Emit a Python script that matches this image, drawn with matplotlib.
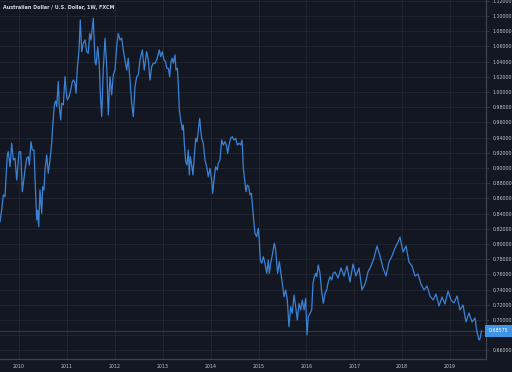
import matplotlib
matplotlib.use("Agg")
import matplotlib.pyplot as plt
import numpy as np

# ---- data (decimal year, AUD/USD weekly close) ----
years = [
    2009.603, 2009.638, 2009.672, 2009.707, 2009.755, 2009.776, 2009.812, 2009.847, 2009.881, 2009.916,
    2009.952, 2010.000, 2010.035, 2010.069, 2010.125, 2010.160, 2010.194, 2010.215, 2010.250, 2010.277,
    2010.313, 2010.334, 2010.369, 2010.390, 2010.411, 2010.438, 2010.474, 2010.494, 2010.522, 2010.543,
    2010.578, 2010.611, 2010.647, 2010.682, 2010.703, 2010.737, 2010.766, 2010.787, 2010.820, 2010.841,
    2010.870, 2010.891, 2010.925, 2010.960, 2010.981, 2011.008, 2011.044, 2011.079, 2011.112, 2011.142,
    2011.169, 2011.190, 2011.217, 2011.252, 2011.279, 2011.309, 2011.342, 2011.378, 2011.413, 2011.446,
    2011.476, 2011.503, 2011.551, 2011.586, 2011.607, 2011.643, 2011.676, 2011.697, 2011.726, 2011.760,
    2011.795, 2011.831, 2011.864, 2011.899, 2011.935, 2011.968, 2012.004, 2012.039, 2012.073, 2012.108,
    2012.144, 2012.177, 2012.213, 2012.248, 2012.281, 2012.317, 2012.352, 2012.386, 2012.421, 2012.457,
    2012.490, 2012.526, 2012.574, 2012.615, 2012.665, 2012.699, 2012.734, 2012.770, 2012.803, 2012.839,
    2012.874, 2012.929, 2012.958, 2012.991, 2013.027, 2013.062, 2013.083, 2013.117, 2013.146, 2013.173,
    2013.200, 2013.221, 2013.256, 2013.277, 2013.305, 2013.325, 2013.346, 2013.375, 2013.409, 2013.430,
    2013.451, 2013.480, 2013.507, 2013.534, 2013.555, 2013.576, 2013.605, 2013.632, 2013.659, 2013.689,
    2013.716, 2013.743, 2013.772, 2013.793, 2013.814, 2013.847, 2013.883, 2013.918, 2013.952, 2013.987,
    2014.022, 2014.043, 2014.077, 2014.106, 2014.140, 2014.160, 2014.196, 2014.231, 2014.265, 2014.300,
    2014.336, 2014.357, 2014.384, 2014.419, 2014.453, 2014.488, 2014.524, 2014.557, 2014.593, 2014.628,
    2014.655, 2014.670, 2014.683, 2014.712, 2014.739, 2014.766, 2014.795, 2014.822, 2014.850, 2014.870,
    2014.899, 2014.927, 2014.962, 2014.996, 2015.016, 2015.037, 2015.067, 2015.100, 2015.135, 2015.171,
    2015.204, 2015.225, 2015.254, 2015.288, 2015.330, 2015.359, 2015.380, 2015.400, 2015.434, 2015.463,
    2015.497, 2015.532, 2015.568, 2015.601, 2015.636, 2015.672, 2015.705, 2015.741, 2015.776, 2015.810,
    2015.845, 2015.881, 2015.914, 2015.950, 2015.985, 2016.012, 2016.040, 2016.075, 2016.110, 2016.138,
    2016.165, 2016.194, 2016.215, 2016.248, 2016.284, 2016.319, 2016.353, 2016.388, 2016.424, 2016.457,
    2016.492, 2016.528, 2016.561, 2016.597, 2016.660, 2016.722, 2016.785, 2016.847, 2016.910, 2016.973,
    2017.035, 2017.098, 2017.161, 2017.224, 2017.286, 2017.349, 2017.411, 2017.474, 2017.536, 2017.599,
    2017.662, 2017.724, 2017.787, 2017.849, 2017.912, 2017.954, 2018.016, 2018.079, 2018.142, 2018.204,
    2018.267, 2018.329, 2018.392, 2018.455, 2018.517, 2018.580, 2018.646, 2018.705, 2018.768, 2018.831,
    2018.893, 2018.956, 2019.019, 2019.081, 2019.144, 2019.206, 2019.269, 2019.332, 2019.394, 2019.457,
    2019.519, 2019.561, 2019.603, 2019.624, 2019.655,
]
prices = [
    0.8293, 0.8447, 0.8645, 0.8622, 0.9171, 0.9214, 0.9017, 0.9325, 0.9105, 0.9128,
    0.8842, 0.9214, 0.9214, 0.8688, 0.8974, 0.9128, 0.9149, 0.9039, 0.9346, 0.9237,
    0.9237, 0.8864, 0.8316, 0.8447, 0.8228, 0.8711, 0.8404, 0.8754, 0.8711, 0.8974,
    0.9171, 0.8930, 0.9105, 0.9325, 0.9543, 0.9829, 0.9881, 0.9807, 1.0136, 0.9807,
    0.9632, 0.9851, 0.9829, 1.0201, 1.0026, 0.9895, 0.9938, 1.0026, 1.0136, 1.0158,
    1.0114, 0.9983, 1.0312, 1.0553, 1.0947, 1.0530, 1.0641, 1.0684, 1.0530, 1.0509,
    1.0772, 1.0684, 1.0970, 1.0399, 1.0355, 1.0596, 1.0355, 0.9983, 0.9675, 1.0312,
    1.0707, 1.0333, 0.9697, 1.0201, 0.9961, 1.0224, 1.0289, 1.0596, 1.0772, 1.0684,
    1.0707, 1.0553, 1.0421, 1.0289, 1.0443, 1.0158, 0.9851, 0.9675, 1.0070, 1.0201,
    1.0224, 1.0421, 1.0553, 1.0289, 1.0530, 1.0421, 1.0158, 1.0333, 1.0378, 1.0378,
    1.0421, 1.0553, 1.0464, 1.0530, 1.0421, 1.0395, 1.0312, 1.0312, 1.0201, 1.0399,
    1.0443, 1.0378, 1.0487, 1.0289, 1.0312, 1.0114, 0.9763, 0.9632, 0.9500, 0.9566,
    0.9325, 0.9083, 0.9039, 0.9237, 0.8908, 0.9149, 0.9039, 0.8908, 0.9149, 0.9391,
    0.9346, 0.9500, 0.9654, 0.9500, 0.9391, 0.9325, 0.9105, 0.9017, 0.8886, 0.8996,
    0.8842, 0.8667, 0.8886, 0.9017, 0.8974, 0.9062, 0.9105, 0.9368, 0.9303, 0.9346,
    0.9280, 0.9193, 0.9303, 0.9391, 0.9412, 0.9368, 0.9391, 0.9303, 0.9325, 0.9303,
    0.9368, 0.9193, 0.8996, 0.8842, 0.8688, 0.8776, 0.8754, 0.8645, 0.8667, 0.8536,
    0.8316, 0.8141, 0.8096, 0.8207, 0.8053, 0.7789, 0.7746, 0.7833, 0.7746, 0.7614,
    0.7789, 0.7614, 0.7746, 0.7855, 0.8009, 0.7921, 0.7746, 0.7614, 0.7767, 0.7635,
    0.7483, 0.7307, 0.7395, 0.7263, 0.6912, 0.7175, 0.7088, 0.7329, 0.7175, 0.7000,
    0.7220, 0.7132, 0.7263, 0.7132, 0.7286, 0.6803, 0.7043, 0.7088, 0.7132, 0.7483,
    0.7570, 0.7614, 0.7570, 0.7724, 0.7614, 0.7372, 0.7220, 0.7351, 0.7395, 0.7504,
    0.7570, 0.7526, 0.7614, 0.7632, 0.7553, 0.7684, 0.7579, 0.7711, 0.7500, 0.7737,
    0.7579, 0.7684, 0.7395, 0.7474, 0.7632, 0.7711, 0.7816, 0.7974, 0.7842, 0.7684,
    0.7579, 0.7763, 0.7842, 0.7947, 0.8026, 0.8092, 0.7895, 0.7974, 0.7763, 0.7711,
    0.7579, 0.7605, 0.7474, 0.7395, 0.7447, 0.7316, 0.7263, 0.7342, 0.7184, 0.7303,
    0.7211, 0.7382, 0.7263, 0.7224, 0.7316, 0.7132, 0.7197, 0.6974, 0.7092, 0.6974,
    0.7026, 0.6842, 0.6737, 0.6750, 0.68575,
]
year_ticks = list(range(2010, 2020))
price_ticks = [round(0.66 + 0.02 * i, 2) for i in range(24)]
title = "Australian Dollar / U.S. Dollar, 1W, FXCM"
last_price = 0.68575

# ---- style ----
bg = "#131722"
grid_c = "#212531"
axis_c = "#3f4350"
text_c = "#c4c7cf"
line_c = "#3b82d4"

fig = plt.figure(figsize=(5.12, 3.72), dpi=100, facecolor=bg)
ax = fig.add_axes([0.0, 1 - 359 / 372, 485.7 / 512, 359 / 372])
ax.set_facecolor(bg)

ax.plot(years, prices, color=line_c, lw=0.9, zorder=3)

ax.set_xlim(2009.603, 2019.743)
ax.set_ylim(0.6487, 1.1210)

ax.set_xticks(year_ticks)
ax.set_xticklabels([str(y) for y in year_ticks])
ax.set_yticks(price_ticks)
ax.set_yticklabels(["" if abs(p - 0.68) < 1e-9 else f"{p:.5f}" for p in price_ticks])
ax.yaxis.tick_right()

ax.grid(True, color=grid_c, lw=0.7)
ax.set_axisbelow(True)

for s in ["top", "left"]:
    ax.spines[s].set_visible(False)
for s in ["right", "bottom"]:
    ax.spines[s].set_color(axis_c)
    ax.spines[s].set_linewidth(0.9)

ax.tick_params(axis="y", colors=axis_c, labelcolor=text_c, labelsize=3.4, length=2.5, width=0.6, pad=2.5)
ax.tick_params(axis="x", colors=axis_c, labelcolor=text_c, labelsize=3.4, length=0, pad=3.5)

# current price line and label
ax.axhline(last_price, color="#2e3b52", lw=0.8, zorder=2)
ax.text(1.006, last_price, f"{last_price:.5f}", transform=ax.get_yaxis_transform(),
        ha="left", va="center", fontsize=3.4, color="white", clip_on=False, zorder=10,
        bbox=dict(boxstyle="square,pad=0.7", fc="#3f94e6", ec="none"))

fig.text(3 / 512, 1 - 7 / 372, title, ha="left", va="center", fontsize=3.5,
         color="#d6d9e0", fontweight="bold")

fig.savefig("out.png", dpi=100, facecolor=bg)
